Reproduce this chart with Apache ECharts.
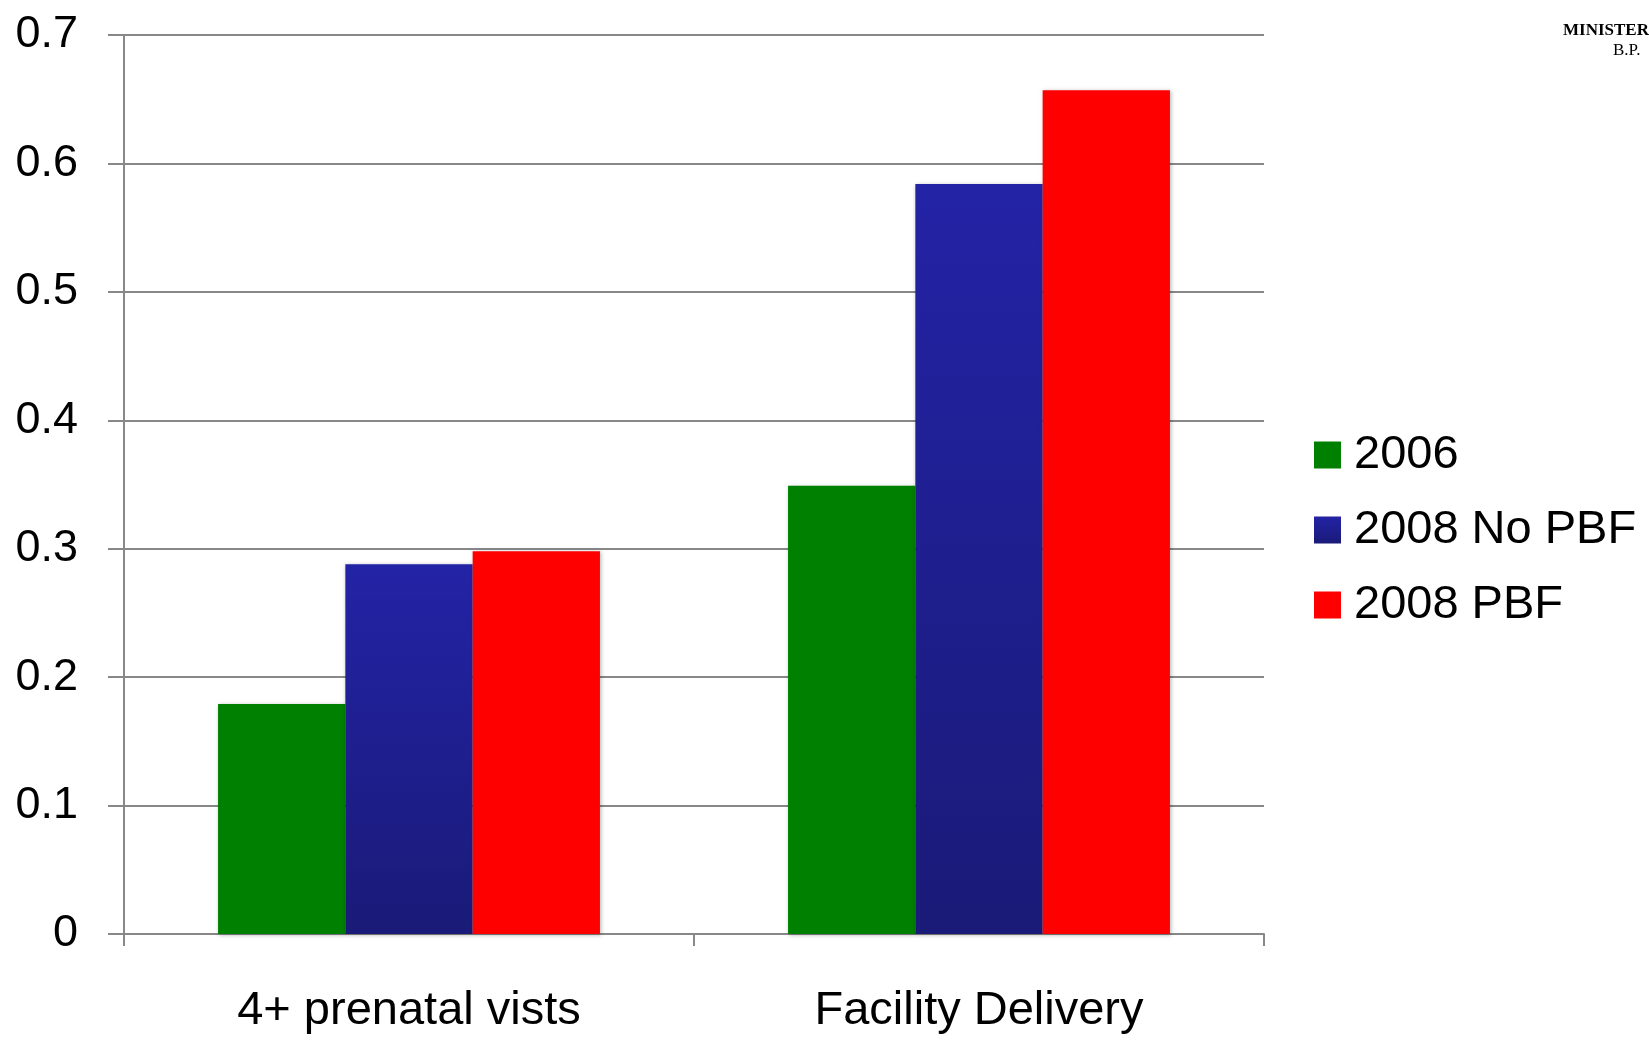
<!DOCTYPE html>
<html>
<head>
<meta charset="utf-8">
<script src="https://cdn.jsdelivr.net/npm/echarts@6/dist/echarts.min.js"></script>
<style>
html,body{margin:0;padding:0;background:#fff;}
#c{width:1649px;height:1046px;}
</style>
</head>
<body>
<div id="c"></div>
<script>
const categories = ['4+ prenatal vists', 'Facility Delivery'];
const seriesNames = ['2006', '2008 No PBF', '2008 PBF'];
const values2006 = [0.179, 0.349];
const values2008NoPBF = [0.288, 0.584];
const values2008PBF = [0.298, 0.657];

const chart = echarts.init(document.getElementById('c'));
const blueGrad = new echarts.graphic.LinearGradient(0, 0, 0, 1, [
  {offset: 0, color: '#2323a6'},
  {offset: 1, color: '#1a1a78'}
]);
const shadow = {shadowBlur: 4, shadowColor: 'rgba(0,0,0,0.3)', shadowOffsetX: 1, shadowOffsetY: 1};
chart.setOption({
  animation: false,
  grid: {left: 124, right: 385, top: 35, bottom: 112, containLabel: false},
  legend: {
    orient: 'vertical', left: 1314, top: 430, padding: 0,
    itemWidth: 27, itemHeight: 27, itemGap: 25, icon: 'rect',
    data: seriesNames,
    textStyle: {fontFamily: 'Liberation Sans', fontSize: 47, color: '#000', lineHeight: 50, padding: [0, 0, 0, 8]}
  },
  xAxis: {
    type: 'category', data: categories,
    axisLine: {lineStyle: {color: '#888', width: 2}},
    axisTick: {show: true, length: 12, lineStyle: {color: '#888', width: 2}},
    axisLabel: {fontFamily: 'Liberation Sans', fontSize: 47, color: '#000', margin: 54}
  },
  yAxis: {
    type: 'value', min: 0, max: 0.7, interval: 0.1,
    axisLine: {show: true, lineStyle: {color: '#888', width: 2}},
    axisTick: {show: true, length: 16, lineStyle: {color: '#888', width: 2}},
    splitLine: {show: true, lineStyle: {color: '#888', width: 2}},
    axisLabel: {fontFamily: 'Liberation Sans', fontSize: 45, color: '#000', margin: 46}
  },
  series: [
    {name: seriesNames[0], type: 'bar', data: values2006, barGap: 0, barCategoryGap: '33%',
     itemStyle: Object.assign({color: '#008000'}, shadow)},
    {name: seriesNames[1], type: 'bar', data: values2008NoPBF, barGap: 0, barCategoryGap: '33%',
     itemStyle: Object.assign({color: blueGrad}, shadow)},
    {name: seriesNames[2], type: 'bar', data: values2008PBF, barGap: 0, barCategoryGap: '33%',
     itemStyle: Object.assign({color: '#ff0000'}, shadow)}
  ],
  graphic: [
    {type: 'text', left: 1563, top: 22, style: {text: 'MINISTER', font: 'bold 17px "Liberation Serif"', fill: '#000'}},
    {type: 'text', left: 1613, top: 42, style: {text: 'B.P.', font: '17px "Liberation Serif"', fill: '#000'}}
  ]
});
</script>
</body>
</html>
